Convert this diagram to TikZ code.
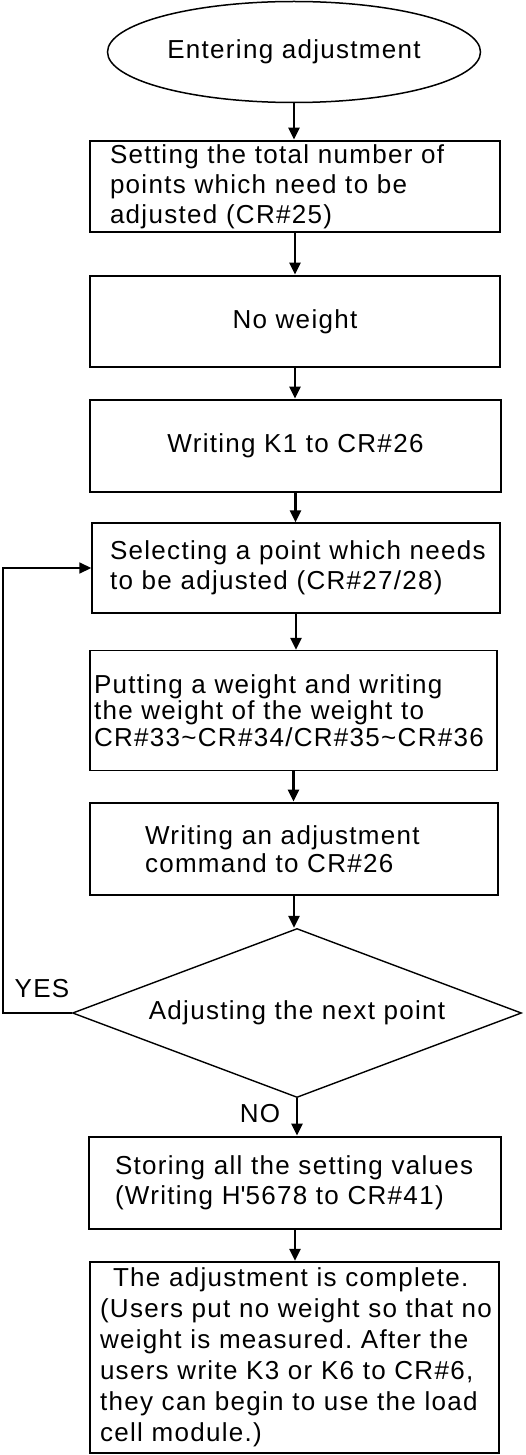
\documentclass[tikz,border=0pt]{standalone}
\usepackage{fontspec}
\setmainfont{Liberation Sans}[LetterSpace=5]
\usetikzlibrary{arrows.meta,shapes}
\frenchspacing

\begin{document}
\begin{tikzpicture}[x=1pt,y=-1pt,
  every node/.style={font=\fontsize{26}{30}\selectfont},
  stepbox/.style={draw,rectangle,line width=2.8pt,inner sep=0pt},
  thinbox/.style={stepbox,line width=1.4pt},
  flow/.style={line width=2.6pt,-{Triangle[length=12pt,width=11pt]}}]
\useasboundingbox (0,0) rectangle (526,1455);
% boxes
\node[ellipse,draw,line width=1.5pt,minimum width=373pt,minimum height=101pt,inner sep=0pt] (enter) at (294,52) {Entering adjustment};
\node[stepbox,minimum width=410pt,minimum height=91pt,text width=370pt,align=left] (total) at (295,186.5) {Setting the total number of\\points which need to be\\adjusted (CR\#25)};
\node[stepbox,minimum width=410pt,minimum height=91pt] (noweight) at (295,321.5) {No weight};
\node[stepbox,minimum width=411pt,minimum height=92pt] (writek1) at (295.5,446) {Writing K1 to CR\#26};
\node[thinbox,minimum width=408pt,minimum height=90pt,text width=372pt,align=left] (select) at (296,568) {\mbox{Selecting a point which needs}\\to be adjusted (CR\#27/28)};
\node[thinbox,minimum width=407pt,minimum height=120pt,text width=399pt,align=left,font=\fontsize{26}{26.5}\selectfont] (put) at (293.5,710.5) {Putting a weight and writing\\the weight of the weight to\\\mbox{CR\#33\textasciitilde CR\#34/CR\#35\textasciitilde CR\#36}};
\node[stepbox,minimum width=408pt,minimum height=92pt,text width=298pt,align=left,font=\fontsize{26}{28.5}\selectfont] (command) at (294,849) {Writing an adjustment\\command to CR\#26};
\node[diamond,draw,line width=1.4pt,aspect=2.66,minimum width=449pt,minimum height=169pt,inner sep=0pt] (next) at (297,1013) {Adjusting the next point};
\node[stepbox,minimum width=412pt,minimum height=92pt,text width=360pt,align=left] (store) at (295,1183) {Storing all the setting values\\(Writing H\textquotesingle 5678 to CR\#41)};
\node[stepbox,line width=2.4pt,minimum width=409pt,minimum height=191pt,text width=389pt,align=left,font=\fontsize{26}{31}\selectfont] (done) at (294.5,1357.5) {\hspace*{13pt}The adjustment is complete.\\\mbox{(Users put no weight so that no}\\\mbox{weight is measured. After the}\\\mbox{users write K3 or K6 to CR\#6,}\\\mbox{they can begin to use the load}\\cell module.)};
% labels
\node (yes) at (42,989) {YES};
\node (no) at (260,1114) {NO};
% arrows
\draw[flow] (enter.south) -- (enter.south |- total.north);
\draw[flow] (total.south) -- (total.south |- noweight.north);
\draw[flow] (noweight.south) -- (noweight.south |- writek1.north);
\draw[flow] (writek1.south) -- (writek1.south |- select.north);
\draw[flow] (select.south) -- (select.south |- put.north);
\draw[flow] (put.south) -- (put.south |- command.north);
\draw[flow] (command.south) -- (command.south |- next.north);
\draw[flow] (next.south) -- (next.south |- store.north);
\draw[flow] (store.south) -- (store.south |- done.north);
\coordinate (bend) at (3,1013);
\draw[flow,line width=1.6pt] (next.west) -- (bend) |- (select.west);
\end{tikzpicture}
\end{document}
